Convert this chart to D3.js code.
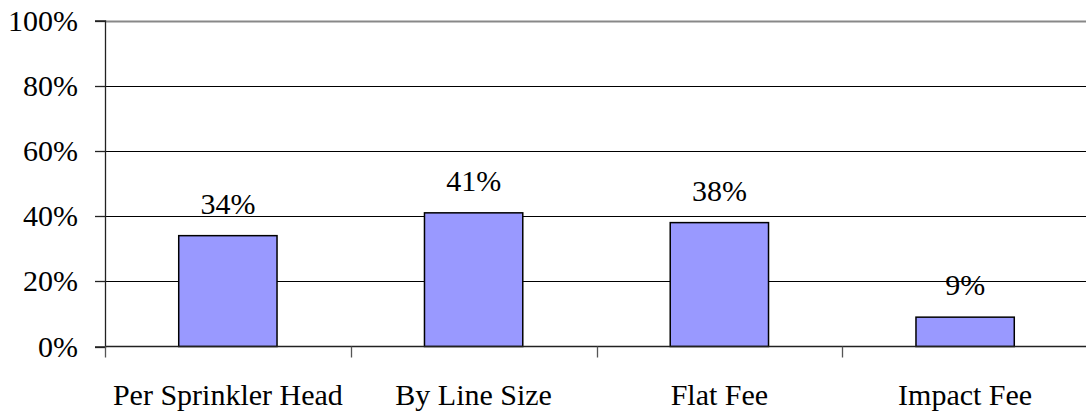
<!DOCTYPE html>
<html>
<head>
<meta charset="utf-8">
<script src="https://cdn.jsdelivr.net/npm/d3@7"></script>
<style>
  html, body { margin: 0; padding: 0; background: #fff; }
  svg { display: block; }
</style>
</head>
<body>
<svg id="chart" width="1086" height="413"></svg>
<script>
// Fee structure shares
const categories = ["Per Sprinkler Head", "By Line Size", "Flat Fee", "Impact Fee"];
const shares = [0.34, 0.41, 0.38, 0.09];
const valueLabels = ["34%", "41%", "38%", "9%"];
const yTicks = [0, 0.2, 0.4, 0.6, 0.8, 1.0];

const FONT = "'Times New Roman', 'Liberation Serif', Tinos, 'DejaVu Serif', serif";

const svg = d3.select("#chart");
const plotLeft = 105, plotRight = 1088, plotTop = 20.5, plotBottom = 346.5;

const x = d3.scaleBand().domain(categories).range([plotLeft, plotRight]).padding(0);
const y = d3.scaleLinear().domain([0, 1]).range([plotBottom, plotTop]);
const barW = x.bandwidth() * 0.4;

// horizontal gridlines
svg.append("g").selectAll("line")
  .data(yTicks.filter(d => d > 0))
  .join("line")
  .attr("x1", plotLeft).attr("x2", plotRight)
  .attr("y1", d => Math.round(y(d)) + 0.5).attr("y2", d => Math.round(y(d)) + 0.5)
  .attr("stroke", d => d === 1 ? "#888" : "#000")
  .attr("stroke-width", d => d === 1 ? 2 : 1.2);

// y axis
const yAxis = d3.axisLeft(y).tickValues(yTicks).tickFormat(d3.format(".0%"))
  .tickSize(10).tickPadding(17);
const gy = svg.append("g").attr("transform", `translate(${plotLeft},0)`).call(yAxis)
  .attr("font-family", FONT).attr("font-size", 30);
gy.select(".domain").attr("stroke", "#222").attr("stroke-width", 1.3);
gy.selectAll(".tick line").attr("stroke", "#222").attr("stroke-width", 1.3);
gy.selectAll("text").attr("fill", "#000");
gy.selectAll(".tick").attr("transform", d => `translate(0,${Math.round(y(d)) + 0.5})`);

// bars
svg.append("g").selectAll("rect")
  .data(shares)
  .join("rect")
  .attr("x", (d, i) => x(categories[i]) + (x.bandwidth() - barW) / 2)
  .attr("y", d => y(d))
  .attr("width", barW)
  .attr("height", d => y(0) - y(d))
  .attr("fill", "#9999FF")
  .attr("stroke", "#000")
  .attr("stroke-width", 1.5);

// value labels
svg.append("g").attr("font-family", FONT).attr("font-size", 30)
  .selectAll("text")
  .data(shares)
  .join("text")
  .attr("x", (d, i) => x(categories[i]) + x.bandwidth() / 2)
  .attr("y", d => y(d) - 22)
  .attr("text-anchor", "middle")
  .attr("fill", "#000")
  .text((d, i) => valueLabels[i]);

// x axis baseline and boundary ticks
svg.append("line")
  .attr("x1", plotLeft).attr("x2", plotRight)
  .attr("y1", plotBottom).attr("y2", plotBottom)
  .attr("stroke", "#222").attr("stroke-width", 1.3);
const bounds = categories.map(c => x(c)).concat([plotRight]);
svg.append("g").selectAll("line")
  .data(bounds)
  .join("line")
  .attr("x1", d => Math.round(d) + 0.5).attr("x2", d => Math.round(d) + 0.5)
  .attr("y1", plotBottom).attr("y2", plotBottom + 11)
  .attr("stroke", "#555").attr("stroke-width", 1.3);

// category labels
svg.append("g").attr("font-family", FONT).attr("font-size", 30)
  .selectAll("text")
  .data(categories)
  .join("text")
  .attr("x", d => x(d) + x.bandwidth() / 2)
  .attr("y", 405)
  .attr("text-anchor", "middle")
  .attr("fill", "#000")
  .text(d => d);
</script>
</body>
</html>
